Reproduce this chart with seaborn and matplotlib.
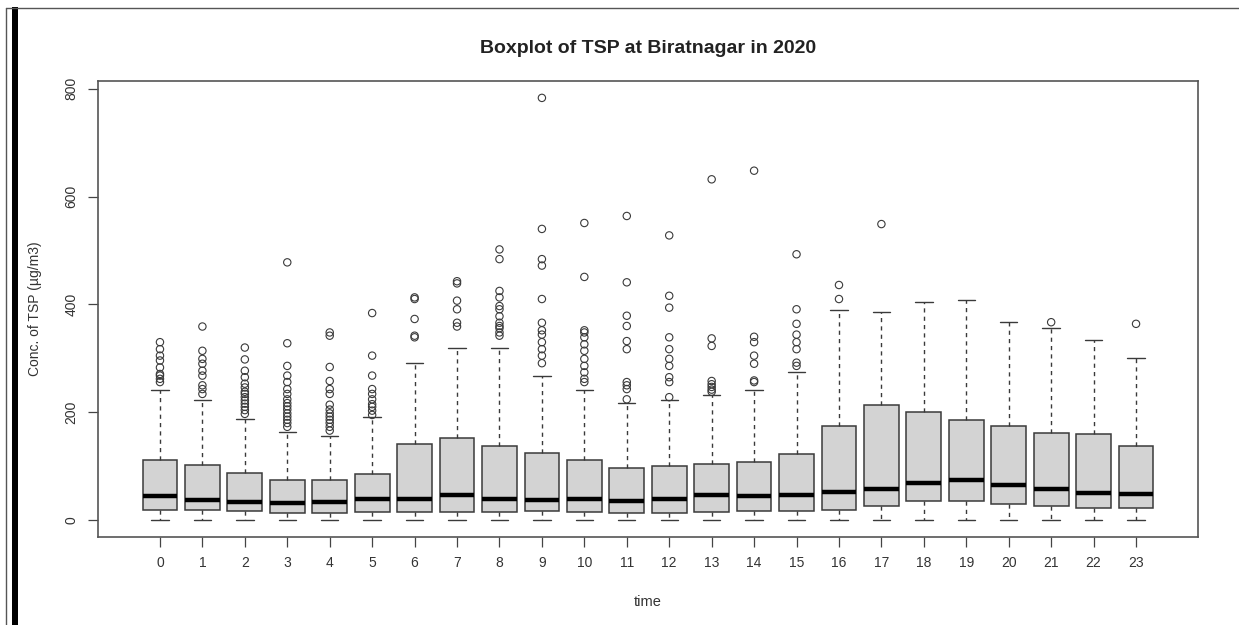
import matplotlib
matplotlib.use("Agg")
import matplotlib.pyplot as plt
from matplotlib.lines import Line2D
from matplotlib.patches import Rectangle
import seaborn as sns
import pandas as pd

# ---------------- data ----------------
hours = list(range(24))
whisker_lo = [0, 0, 0, 0, 0, 0, 0, 0, 0, 0, 0, 0, 0, 0, 0, 0, 0, 0, 0, 0, 0, 0, 0, 0]
q1 = [18, 18, 17, 14, 14, 15, 15, 15, 15, 17, 15, 14, 14, 15, 17, 17, 19, 26, 35, 35, 29, 26, 23, 23]
median = [44, 38, 34, 32, 34, 40, 40, 46, 40, 38, 40, 35, 40, 46, 45, 46, 52, 57, 68, 75, 66, 57, 51, 48]
q3 = [111, 103, 88, 75, 74, 86, 142, 152, 138, 125, 111, 97, 101, 104, 108, 123, 174, 214, 200, 185, 174, 162, 159, 138]
whisker_hi = [242, 223, 188, 163, 156, 191, 291, 319, 319, 268, 242, 217, 223, 232, 242, 274, 390, 386, 405, 408, 368, 356, 334, 301]
outliers = [
    [256, 262, 268, 271, 283, 296, 305, 317, 330],
    [234, 243, 250, 268, 277, 290, 299, 314, 359],
    [197, 204, 210, 216, 222, 228, 234, 238, 246, 253, 265, 277, 298, 320],
    [173, 180, 186, 192, 198, 205, 211, 217, 224, 234, 243, 256, 268, 286, 328, 478],
    [166, 173, 180, 186, 192, 198, 205, 214, 234, 243, 258, 284, 342, 348],
    [195, 203, 210, 215, 224, 234, 243, 268, 305, 384],
    [339, 342, 373, 410, 413],
    [359, 366, 391, 407, 439, 443],
    [342, 348, 356, 360, 366, 378, 391, 397, 413, 425, 484, 502],
    [291, 305, 317, 330, 344, 352, 366, 410, 472, 484, 540, 783],
    [256, 262, 274, 286, 299, 314, 326, 339, 348, 352, 451, 551],
    [224, 243, 250, 256, 317, 332, 360, 379, 441, 564],
    [228, 256, 265, 286, 299, 317, 339, 394, 416, 528],
    [238, 242, 247, 252, 258, 323, 337, 632],
    [256, 259, 290, 305, 330, 340, 648],
    [286, 292, 317, 330, 344, 364, 391, 493],
    [410, 436],
    [549],
    [],
    [],
    [],
    [367],
    [],
    [364],
]
title = "Boxplot of TSP at Biratnagar in 2020"
xlabel = "time"
ylabel = "Conc. of TSP (\u00b5g/m3)"
yticks = [0, 200, 400, 600, 800]

# ---------------- style ----------------
sns.set_theme(style="white")
plt.rcParams["font.family"] = ["Liberation Sans", "DejaVu Sans"]

W, H = 1239, 625
fig = plt.figure(figsize=(W / 100, H / 100), dpi=100)
ax = fig.add_axes([98 / W, 1 - 537 / H, (1198 - 98) / W, (537 - 81) / H])

stats = []
for i, h in enumerate(hours):
    stats.append(dict(med=median[i], q1=q1[i], q3=q3[i],
                      whislo=whisker_lo[i], whishi=whisker_hi[i],
                      fliers=[], label=str(h)))

ax.bxp(stats, positions=hours, widths=0.82, patch_artist=True, showfliers=False,
       boxprops=dict(facecolor="#d3d3d3", edgecolor="#3a3a3a", linewidth=1.1),
       medianprops=dict(color="black", linewidth=3.2, solid_capstyle="butt"),
       whiskerprops=dict(color="#3a3a3a", linewidth=1.0, linestyle=(0, (3, 3))),
       capprops=dict(color="#3a3a3a", linewidth=1.0),
       capwidths=0.41, manage_ticks=False)

# outliers via seaborn
fl_hour, fl_val = [], []
for h, vals in zip(hours, outliers):
    for v in vals:
        fl_hour.append(h)
        fl_val.append(v)
df_fl = pd.DataFrame({"hour": fl_hour, "value": fl_val})
sns.scatterplot(data=df_fl, x="hour", y="value", ax=ax, marker="o",
                facecolors="none", edgecolors="#3a3a3a", s=28, linewidths=0.8,
                legend=False, zorder=3)

# R-like axis ranges (4% extension)
n = len(hours)
ax.set_xlim(-0.5 - 0.04 * n, n - 0.5 + 0.04 * n)
ymax = max(max(v) for v in outliers if v)
ax.set_ylim(0 - 0.04 * ymax, ymax * 1.04)

ax.set_xticks(hours)
ax.set_xticklabels([str(h) for h in hours])
ax.set_yticks(yticks)
ax.set_yticklabels([str(t) for t in yticks], rotation=90, va="center")
ax.tick_params(axis="both", direction="out", length=7, width=0.9, color="#444444",
               labelsize=10, labelcolor="#333333", pad=7, bottom=True, left=True)

for sp in ax.spines.values():
    sp.set_color("#555555")
    sp.set_linewidth(1.2)

ax.set_xlabel(xlabel, fontsize=10.5, color="#333333", labelpad=18)
ax.set_ylabel(ylabel, fontsize=10, color="#333333", labelpad=16)
ax.set_title(title, fontsize=14, fontweight="bold", color="#222222", pad=20)

# page decorations (border lines and black bar at left)
fig.add_artist(Line2D([6 / W, 1], [1 - 8 / H, 1 - 8 / H], transform=fig.transFigure,
                      color="#555555", linewidth=1.0))
fig.add_artist(Line2D([6 / W, 6 / W], [0, 1 - 8 / H], transform=fig.transFigure,
                      color="#555555", linewidth=1.0))
fig.add_artist(Rectangle((12 / W, 0), 6 / W, 1 - 7 / H, transform=fig.transFigure,
                         facecolor="black", edgecolor="none"))

fig.savefig("out.png", dpi=100)
